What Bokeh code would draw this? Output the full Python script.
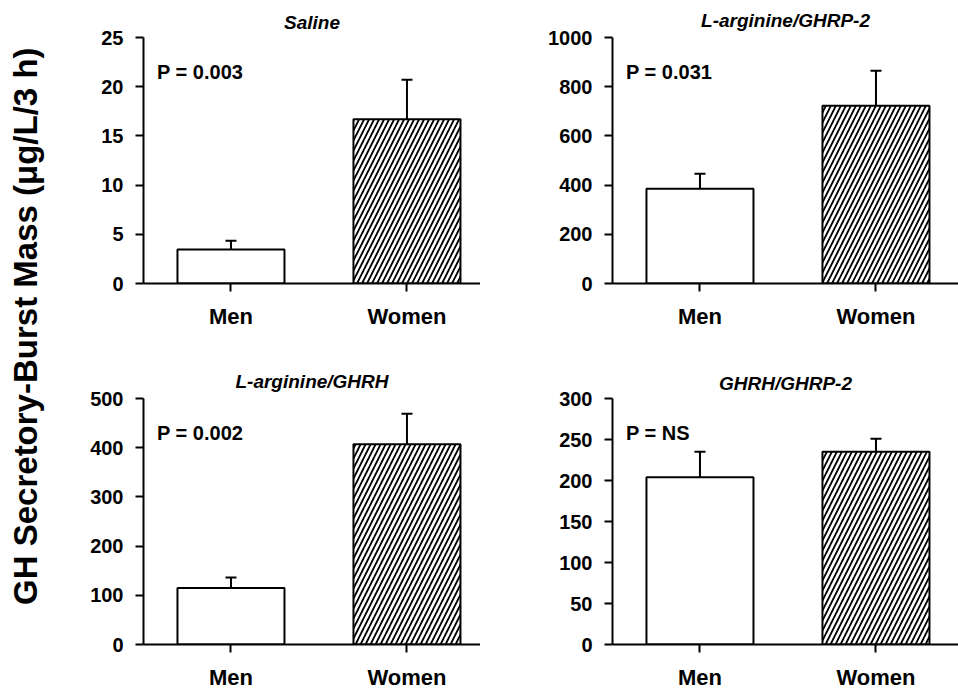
import math
from bokeh.plotting import figure
from bokeh.layouts import row, column
from bokeh.models import Range1d, FixedTicker, Whisker, ColumnDataSource, TeeHead
from bokeh.embed import file_html
from bokeh.resources import INLINE
from bokeh.core.properties import value

# ---------------- data ----------------
categories = ["Men", "Women"]
panel_titles = ["Saline", "L-arginine/GHRP-2", "L-arginine/GHRH", "GHRH/GHRP-2"]
p_labels = ["P = 0.003", "P = 0.031", "P = 0.002", "P = NS"]

saline_mean = [3.45, 16.7]
saline_sem = [0.9, 4.0]
arg_ghrp2_mean = [385, 723]
arg_ghrp2_sem = [61, 142]
arg_ghrh_mean = [115, 407]
arg_ghrh_sem = [21, 62]
ghrh_ghrp2_mean = [204, 235]
ghrh_ghrp2_sem = [31, 16]

y_max = [25, 1000, 500, 300]
y_ticks = [
    [0, 5, 10, 15, 20, 25],
    [0, 200, 400, 600, 800, 1000],
    [0, 100, 200, 300, 400, 500],
    [0, 50, 100, 150, 200, 250, 300],
]
y_label = "GH Secretory-Burst Mass (\u03bcg/L/3 h)"

FONT = "Liberation Sans"
PX_PER_UNIT = 176.0
X0 = 0.503
BAR_W = 0.608


def make_panel(i, means, sems, width, height, left, top, bottom, frame_w, standoff):
    xs = [k + 1 for k in range(len(categories))]
    p = figure(width=width, height=height,
               min_border_left=left, min_border_right=0,
               min_border_top=top, min_border_bottom=bottom,
               x_range=Range1d(X0, X0 + frame_w / PX_PER_UNIT),
               y_range=Range1d(0, y_max[i]),
               toolbar_location=None, output_backend="svg")
    p.title.text = panel_titles[i]
    p.title.align = "center"
    p.title.text_font = FONT
    p.title.text_font_size = "19px"
    p.title.text_font_style = "bold italic"
    p.title.text_color = "black"
    p.title.standoff = standoff
    p.outline_line_color = None
    p.xgrid.visible = False
    p.ygrid.visible = False

    for ax in (p.xaxis[0], p.yaxis[0]):
        ax.axis_line_width = 2
        ax.axis_line_color = "black"
        ax.major_tick_line_width = 2
        ax.major_tick_line_color = "black"
        ax.major_tick_out = 8
        ax.major_tick_in = 0
        ax.minor_tick_line_color = None
        ax.major_label_text_font = FONT
        ax.major_label_text_font_style = "bold"
        ax.major_label_text_color = "black"
    p.xaxis.ticker = FixedTicker(ticks=xs)
    p.xaxis.major_label_overrides = {x: c for x, c in zip(xs, categories)}
    p.xaxis.major_label_text_font_size = "22px"
    p.xaxis.major_label_standoff = 12
    p.yaxis.ticker = FixedTicker(ticks=y_ticks[i])
    p.yaxis.major_label_text_font_size = "20px"
    p.yaxis.major_label_standoff = 12

    src = ColumnDataSource(dict(
        x=xs, top=means,
        upper=[m + s for m, s in zip(means, sems)],
        hatch=[" ", "/"],
    ))
    p.vbar(x="x", top="top", width=BAR_W, bottom=0, source=src,
           fill_color="white", line_color="black", line_width=2,
           hatch_pattern="hatch", hatch_color="black",
           hatch_scale=10, hatch_weight=1.8)
    w = Whisker(base="x", lower="top", upper="upper", source=src,
                line_color="black", line_width=2,
                upper_head=TeeHead(size=11, line_width=2, line_color="black"),
                lower_head=None, level="overlay")
    p.add_layout(w)

    p.text(x=[0.58], y=[0.86 * y_max[i]], text=[p_labels[i]],
           text_font=value(FONT), text_font_style="bold",
           text_font_size="20px", text_baseline="middle", text_align="left",
           text_color="black")
    return p


TOP_H, BOT_H = 358, 335
LW, RW = 430, 478

p1 = make_panel(0, saline_mean, saline_sem, LW, TOP_H, 93, 37, 75, 337, 10)
p2 = make_panel(1, arg_ghrp2_mean, arg_ghrp2_sem, RW, TOP_H, 132, 37, 75, 346, 13)
p3 = make_panel(2, arg_ghrh_mean, arg_ghrh_sem, LW, BOT_H, 93, 40, 49, 337, 13)
p4 = make_panel(3, ghrh_ghrp2_mean, ghrh_ghrp2_sem, RW, BOT_H, 132, 40, 49, 346, 10)

lab = figure(width=50, height=TOP_H + BOT_H, x_range=Range1d(0, 1), y_range=Range1d(0, 1),
             x_axis_type=None, y_axis_type=None, toolbar_location=None,
             output_backend="svg", min_border_left=0, min_border_right=0,
             min_border_top=0, min_border_bottom=0)
lab.outline_line_color = None
lab.xgrid.visible = False
lab.ygrid.visible = False
lab.text(x=[0.5], y=[0.53], text=[y_label], angle=math.pi / 2,
         text_font=value(FONT), text_font_style="bold", text_font_size="33px",
         text_align="center", text_baseline="middle", text_color="black")

layout = row(lab, column(row(p1, p2), row(p3, p4)))

with open("out.html", "w") as f:
    f.write(file_html(layout, INLINE))
